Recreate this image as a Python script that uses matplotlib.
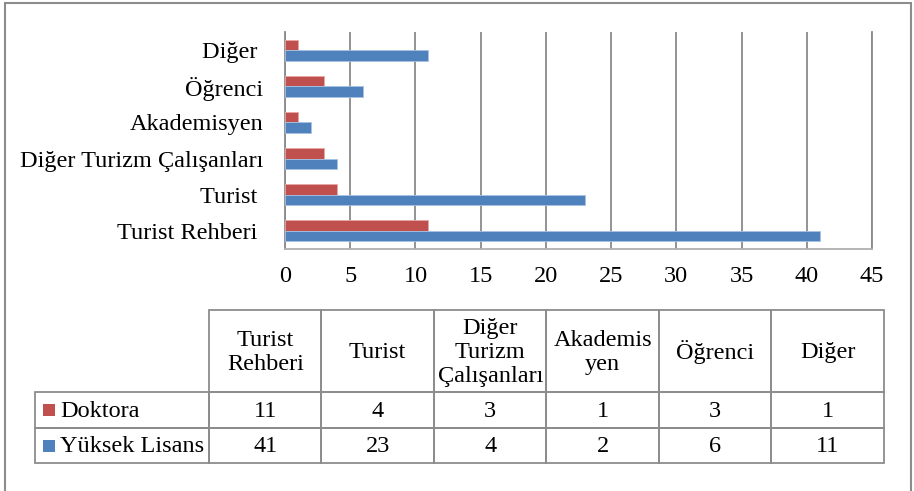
import matplotlib
matplotlib.use("Agg")
import matplotlib.pyplot as plt
from matplotlib.patches import Rectangle
import numpy as np

plt.rcParams['font.family'] = ['Liberation Serif', 'DejaVu Serif']

categories = ["Turist Rehberi", "Turist", "Diğer Turizm Çalışanları", "Akademisyen", "Öğrenci", "Diğer"]
axis_labels = ["Turist Rehberi ", "Turist ", "Diğer Turizm Çalışanları", "Akademisyen", "Öğrenci", "Diğer "]
table_headers = ["Turist\nRehberi", "Turist", "Diğer\nTurizm\nÇalışanları", "Akademis\nyen", "Öğrenci", "Diğer"]
series_names = ["Doktora", "Yüksek Lisans"]
doktora = [11, 4, 3, 1, 3, 1]
yuksek_lisans = [41, 23, 4, 2, 6, 11]
xticks = [0, 5, 10, 15, 20, 25, 30, 35, 40, 45]

RED = "#C0504D"
BLUE = "#4F81BD"
GRID = "#8A8A8A"
FS = 17.5

W, H = 914, 491
fig = plt.figure(figsize=(W / 100, H / 100), dpi=100)

# outer frame
fig.add_artist(Rectangle((5 / W, -0.02), (911 - 5) / W, 1.02 - 3 / H, transform=fig.transFigure,
                         fill=False, edgecolor="#8C8C8C", lw=1.5, clip_on=False))

ax = fig.add_axes([285 / W, 1 - 249 / H, (872 - 285) / W, (249 - 32) / H])
y = np.arange(len(categories))
h = 0.29
ax.barh(y + h / 2, doktora, height=h, color=RED, edgecolor="#E8A8A6", lw=0.6, zorder=3)
ax.barh(y - h / 2, yuksek_lisans, height=h, color=BLUE, edgecolor="#A8C2E4", lw=0.6, zorder=3)
ax.set_xlim(0, 45)
ax.set_ylim(-0.5, len(categories) - 0.5)
ax.set_xticks(xticks)
ax.set_xticklabels([str(t) for t in xticks], fontsize=FS)
ax.set_yticks(y)
ax.set_yticklabels(axis_labels, fontsize=FS)
ax.tick_params(axis='x', length=0, pad=12)
ax.tick_params(axis='y', length=0, pad=15.5)
ax.grid(axis='x', color=GRID, lw=1.3, zorder=0)
for s in ['left', 'right', 'bottom']:
    ax.spines[s].set_color(GRID)
    ax.spines[s].set_linewidth(1.3)
ax.spines['bottom'].set_color("#B0B0B0")
ax.spines['top'].set_visible(False)

# data table (pixel layout -> axes fraction)
tl, tr, tt, tb = 35, 884, 310, 463
tax = fig.add_axes([tl / W, 1 - tb / H, (tr - tl) / W, (tb - tt) / H])
tax.set_xlim(tl, tr)
tax.set_ylim(tb, tt)
tax.set_axis_off()
edge = "#8C8C8C"
col_x = [209 + k * (tr - 209) / 6 for k in range(7)]
row_y = [tt, 392, 428, tb]


def cell(x0, x1, y0, y1, text, ha='center', tx=None, ls=1.03):
    tax.add_patch(Rectangle((x0, y0), x1 - x0, y1 - y0, fill=False, edgecolor=edge,
                            lw=1.3, clip_on=False))
    xx = (x0 + x1) / 2 if tx is None else tx
    tax.text(xx, (y0 + y1) / 2 + 1.5, text, ha=ha, va='center', fontsize=FS,
             linespacing=ls, multialignment='center')


for j, lab in enumerate(table_headers):
    cell(col_x[j], col_x[j + 1], row_y[0], row_y[1], lab, ls=1.17)
rows = [doktora, yuksek_lisans]
colors = [RED, BLUE]
for i, (name, vals) in enumerate(zip(series_names, rows)):
    y0, y1 = row_y[i + 1], row_y[i + 2]
    cell(tl, col_x[0], y0, y1, name, ha='left', tx=60)
    cy = (y0 + y1) / 2
    tax.add_patch(Rectangle((43, cy - 6), 12, 12, facecolor=colors[i], edgecolor='none', clip_on=False))
    for j, v in enumerate(vals):
        cell(col_x[j], col_x[j + 1], y0, y1, str(v))

fig.savefig("out.png", dpi=100)
